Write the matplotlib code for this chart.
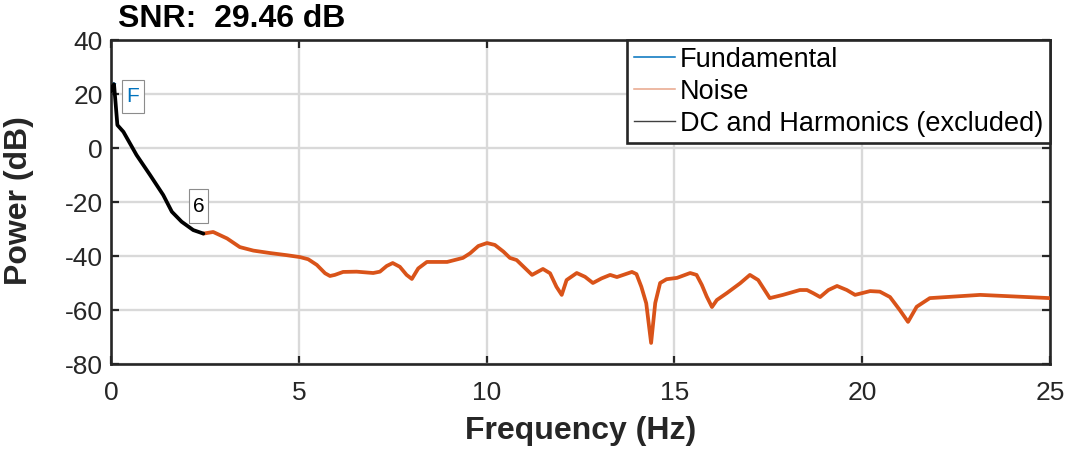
import matplotlib
matplotlib.use("Agg")
import matplotlib.pyplot as plt
from matplotlib.lines import Line2D

plt.rcParams['font.family'] = ['Liberation Sans', 'DejaVu Sans']
plt.rcParams['axes.unicode_minus'] = False

# ---- data ----
fund_freq = [0.04, 0.08]
fund_pow = [22.5, 23.6]

dc_freq = [0.0, 0.04, 0.08, 0.12, 0.17, 0.33, 0.68, 1.04, 1.39, 1.62, 1.88, 2.19, 2.46]
dc_pow = [21.0, 22.8, 23.6, 17.0, 8.5, 6.0, -2.6, -10.0, -17.4, -23.6, -27.3, -30.4, -31.7]

noise_freq = [2.46, 2.72, 3.09, 3.43, 3.79, 4.23, 4.68, 5.03, 5.25, 5.48, 5.7, 5.83, 5.96,
              6.18, 6.54, 6.98, 7.16, 7.34, 7.5, 7.69, 7.87, 8.01, 8.18, 8.41, 8.95,
              9.37, 9.56, 9.78, 10.01, 10.22, 10.45, 10.62, 10.8, 11.21, 11.5, 11.69,
              11.86, 12.0, 12.13, 12.4, 12.62, 12.83, 13.06, 13.29, 13.47, 13.87, 13.99,
              14.12, 14.25, 14.38, 14.49, 14.62, 14.79, 15.07, 15.42, 15.59, 15.73,
              15.86, 16.0, 16.13, 16.4, 16.75, 17.01, 17.23, 17.54, 17.89, 18.34, 18.53,
              18.7, 18.88, 19.1, 19.33, 19.59, 19.81, 20.21, 20.47, 20.74, 21.0, 21.22,
              21.45, 21.8, 23.14, 25.0]
noise_pow = [-31.7, -31.1, -33.5, -36.7, -38.0, -38.9, -39.7, -40.4, -41.2, -43.3, -46.4, -47.4, -47.0,
             -45.9, -45.8, -46.3, -45.8, -43.7, -42.6, -44.0, -47.0, -48.5, -44.6, -42.2, -42.2,
             -40.7, -39.0, -36.3, -35.2, -35.9, -38.4, -40.7, -41.5, -47.0, -44.8, -46.4,
             -51.4, -54.4, -48.9, -46.3, -47.7, -50.0, -48.3, -47.0, -47.8, -45.9, -46.7,
             -51.4, -57.5, -72.2, -57.4, -50.0, -48.6, -48.1, -46.3, -47.0, -50.7,
             -55.0, -58.9, -56.3, -53.7, -50.1, -47.0, -48.9, -55.6, -54.4, -52.6, -52.6,
             -53.8, -55.2, -52.6, -51.1, -52.6, -54.4, -53.0, -53.2, -55.2, -60.0, -64.4,
             -58.8, -55.6, -54.4, -55.6]

label_F_pos = (0.585, 19.1)
label_6_pos = (2.33, -21.5)

xticks = [0, 5, 10, 15, 20, 25]
yticks = [-80, -60, -40, -20, 0, 20, 40]

title_text = "SNR:  29.46 dB"

# ---- colors / styles ----
c_fund = '#0072BD'
c_noise = '#D95319'
c_dc = '#000000'
c_axis = '#262626'

fig = plt.figure(figsize=(10.69, 4.53), dpi=100)
ax = fig.add_axes([111 / 1069, 1 - 364 / 453, (1050 - 111) / 1069, (364 - 40) / 453])

ax.plot(fund_freq, fund_pow, color=c_fund, lw=2.5, zorder=2)
ax.plot(noise_freq, noise_pow, color=c_noise, lw=2.7, zorder=3,
        solid_joinstyle='round', solid_capstyle='round')
ax.plot(dc_freq, dc_pow, color=c_dc, lw=2.7, zorder=4,
        solid_joinstyle='round', solid_capstyle='round')

ax.set_xlim(0, 25)
ax.set_ylim(-80, 40)
ax.set_xticks(xticks)
ax.set_yticks(yticks)

ax.grid(True, color='#d9d9d9', lw=1.7)
ax.set_axisbelow(True)

for s in ax.spines.values():
    s.set_color(c_axis)
    s.set_linewidth(1.9)

ax.tick_params(direction='in', length=6, width=1.6, colors=c_axis,
               top=True, right=True, labelsize=19, labelcolor='#262626')
ax.tick_params(axis='x', pad=12)
ax.tick_params(axis='y', pad=6)

ax.set_xlabel('Frequency (Hz)', fontsize=23, fontweight='bold', color='#262626')
ax.set_ylabel('Power (dB)', fontsize=23, fontweight='bold', color='#262626')
ax.xaxis.set_label_coords(0.5, -0.16)
ax.yaxis.set_label_coords(-0.082, 0.503)

fig.text(118 / 1069, 1 - 27 / 453, title_text, fontsize=23, fontweight='bold',
         color='#000000', va='baseline', ha='left')

bbox_style = dict(boxstyle='square,pad=0.2', fc='white', ec='#8c8c8c', lw=0.8,
                  mutation_aspect=1.7)
ax.text(*label_F_pos, 'F', color=c_fund, fontsize=15, ha='center', va='center',
        bbox=bbox_style, zorder=5)
ax.text(*label_6_pos, '6', color='#000000', fontsize=15, ha='center', va='center',
        bbox=bbox_style, zorder=5)

handles = [Line2D([], [], color=c_fund, lw=1.1),
           Line2D([], [], color='#e8a58a', lw=1.1),
           Line2D([], [], color='#404040', lw=1.0)]
leg = ax.legend(handles, ['Fundamental', 'Noise', 'DC and Harmonics (excluded)'],
                loc='upper right', borderaxespad=0, fontsize=19.5, frameon=True,
                fancybox=False, framealpha=1, edgecolor=c_axis,
                handlelength=1.5, handletextpad=0.2, borderpad=0.25, labelspacing=0.22)
leg.get_frame().set_linewidth(1.9)
leg.set_zorder(10)

fig.savefig('out.png', dpi=100)
